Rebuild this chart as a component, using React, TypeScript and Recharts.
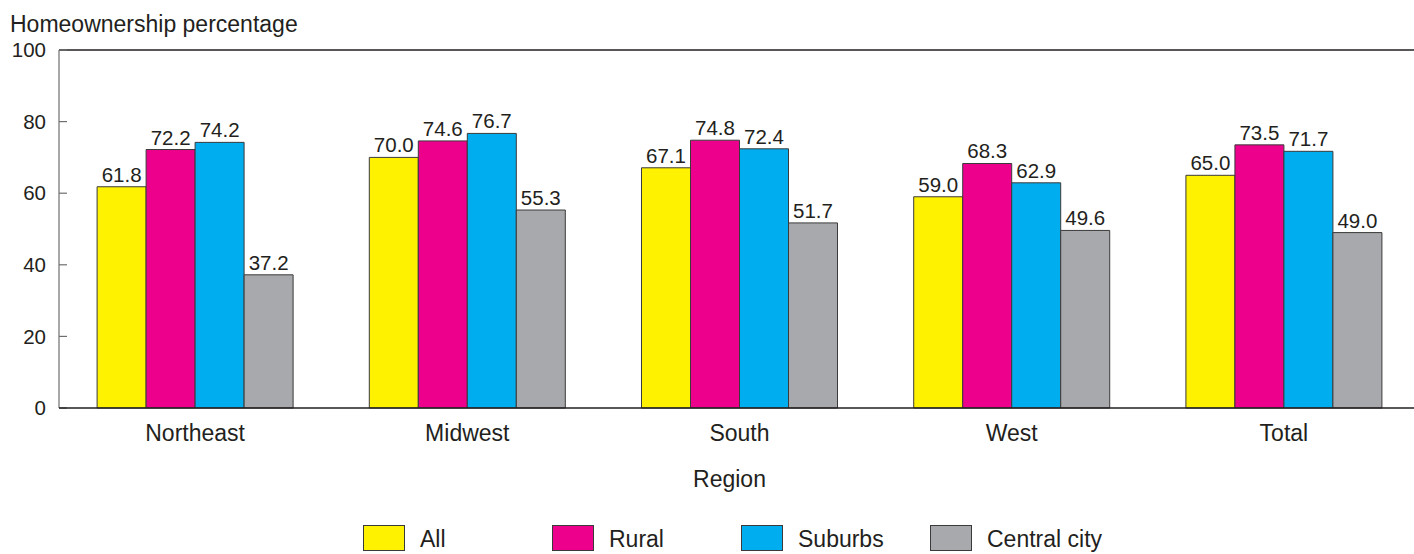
import React from "react";
import { BarChart, Bar, XAxis, YAxis, Legend, LabelList, ReferenceLine } from "recharts";

const regions = ["Northeast", "Midwest", "South", "West", "Total"];
const allHomes = [61.8, 70.0, 67.1, 59.0, 65.0];
const rural = [72.2, 74.6, 74.8, 68.3, 73.5];
const suburbs = [74.2, 76.7, 72.4, 62.9, 71.7];
const centralCity = [37.2, 55.3, 51.7, 49.6, 49.0];
const yTicks = [0, 20, 40, 60, 80, 100];

const series = [
  { key: "all", name: "All", color: "#FFF200" },
  { key: "rural", name: "Rural", color: "#EC008C" },
  { key: "suburbs", name: "Suburbs", color: "#00AEEF" },
  { key: "central", name: "Central city", color: "#A7A9AC" },
];

const data = regions.map((region, i) => ({
  region,
  all: allHomes[i],
  rural: rural[i],
  suburbs: suburbs[i],
  central: centralCity[i],
}));

const FONT = "'Liberation Sans', Arial, Helvetica, sans-serif";
const INK = "#231f20";

function LegendBoxes() {
  return (
    <div style={{ display: "flex", paddingLeft: 363, fontFamily: FONT }}>
      {series.map((s) => (
        <div key={s.key} style={{ width: 189, display: "flex", alignItems: "flex-start" }}>
          <div
            style={{
              width: 42,
              height: 26,
              background: s.color,
              border: "1px solid #3a3a3a",
              boxSizing: "border-box",
            }}
          />
          <span style={{ marginLeft: 15, marginTop: 3, fontSize: 23, lineHeight: "23px", color: INK }}>
            {s.name}
          </span>
        </div>
      ))}
    </div>
  );
}

export default function App() {
  return (
    <div
      style={{
        position: "absolute",
        left: 0,
        top: 0,
        width: 1414,
        height: 554,
        overflow: "hidden",
        background: "#fff",
        fontFamily: FONT,
      }}
    >
      <BarChart
        width={1420}
        height={554}
        data={data}
        margin={{ top: 50, right: 0, bottom: 0, left: 0 }}
        barCategoryGap="14%"
        barGap={0}
      >
        <YAxis
          type="number"
          domain={[0, 100]}
          ticks={yTicks}
          width={59}
          tickSize={-8}
          tickMargin={21}
          axisLine={{ stroke: "#6d6e71", strokeWidth: 1.2 }}
          tickLine={{ stroke: "#6d6e71", strokeWidth: 1.2 }}
          tick={{ fontSize: 20.5, fill: INK, fontFamily: FONT }}
          label={{
            content: () => (
              <text x={10} y={32} fontSize={23} fill={INK} fontFamily={FONT}>
                Homeownership percentage
              </text>
            ),
          }}
        />
        <XAxis
          dataKey="region"
          height={120}
          tickLine={false}
          tickSize={0}
          tickMargin={17}
          axisLine={{ stroke: INK, strokeWidth: 1.5 }}
          tick={{ fontSize: 23, fill: INK, fontFamily: FONT }}
          label={{
            content: (props: any) => {
              const vb = props.viewBox || {};
              return (
                <text
                  x={vb.x + vb.width / 2 - 10}
                  y={vb.y + 79}
                  textAnchor="middle"
                  fontSize={23}
                  fill={INK}
                  fontFamily={FONT}
                >
                  Region
                </text>
              );
            },
          }}
        />
        <ReferenceLine y={100} stroke={INK} strokeWidth={1.5} />
        <Legend
          verticalAlign="bottom"
          content={() => <LegendBoxes />}
          wrapperStyle={{ position: "absolute", top: 525, left: 0, width: 1414, height: 26 }}
        />
        {series.map((s) => (
          <Bar
            key={s.key}
            dataKey={s.key}
            name={s.name}
            fill={s.color}
            stroke="#3a3a3a"
            strokeWidth={1}
            isAnimationActive={false}
          >
            <LabelList
              dataKey={s.key}
              position="top"
              offset={5}
              formatter={(v: any) => Number(v).toFixed(1)}
              style={{ fontSize: 20.5, fill: INK, fontFamily: FONT }}
            />
          </Bar>
        ))}
      </BarChart>
    </div>
  );
}
